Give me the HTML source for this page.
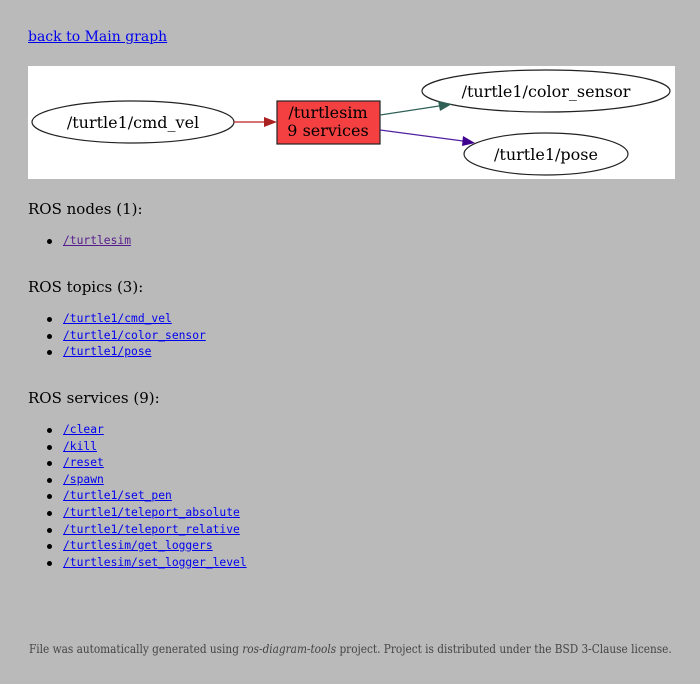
<!DOCTYPE html>
<html><head><meta charset="utf-8"><style>
html,body{margin:0;padding:0;}
body{width:700px;height:684px;background:#bababa;position:relative;overflow:hidden;font-family:"DejaVu Serif","Liberation Serif",serif;}
.a{position:absolute;white-space:nowrap;}
a{color:#0000ee;}
.h{font-size:15px;color:#000;left:28px;}
.li{left:63px;font-family:"DejaVu Sans Mono","Liberation Mono",monospace;font-size:11.3px;}
.b{left:47px;width:5px;height:5px;background:#000;border-radius:50%;}
</style></head><body>
<div class="a" style="left:28px;top:29px;font-size:14px;"><a href="#">back to Main graph</a></div>
<svg class="a" style="left:28px;top:66px" width="647" height="113" viewBox="0 0 647 113">
<rect width="647" height="113" fill="#fff"/>
<g font-family="DejaVu Serif, Liberation Serif, serif" font-size="16" text-anchor="middle">
<ellipse cx="105" cy="56" rx="101" ry="21" fill="none" stroke="#222" stroke-width="1.2"/>
<text x="105" y="62">/turtle1/cmd_vel</text>
<rect x="249" y="35" width="103" height="43" fill="#f44040" stroke="#222" stroke-width="1.2"/>
<text x="300" y="52">/turtlesim</text><text x="300" y="70">9 services</text>
<ellipse cx="518" cy="25" rx="124" ry="21" fill="none" stroke="#222" stroke-width="1.2"/>
<text x="518" y="31">/turtle1/color_sensor</text>
<ellipse cx="518" cy="88" rx="82" ry="21" fill="none" stroke="#222" stroke-width="1.2"/>
<text x="518" y="94">/turtle1/pose</text>
</g>
<line x1="206" y1="56" x2="237" y2="56" stroke="#b22" stroke-width="1.2"/>
<polygon points="249,56 236,51 236,61" fill="#a22"/>
<line x1="352" y1="49" x2="411" y2="40" stroke="#2f5f55" stroke-width="1.2"/>
<polygon points="424,38 410,35 412,45" fill="#2f5f55"/>
<line x1="352" y1="64" x2="435" y2="75" stroke="#5020a0" stroke-width="1.2"/>
<polygon points="447,77 435,70 434,80" fill="#400090"/>
</svg>
<div class="a h" style="top:200px">ROS nodes (1):</div>
<div class="a b" style="top:239px"></div><div class="a li" style="top:234px"><a href="#" style="color:#551a8b">/turtlesim</a></div>
<div class="a h" style="top:278px">ROS topics (3):</div>
<div class="a b" style="top:317px"></div><div class="a li" style="top:312px"><a href="#">/turtle1/cmd_vel</a></div>
<div class="a b" style="top:334px"></div><div class="a li" style="top:329px"><a href="#">/turtle1/color_sensor</a></div>
<div class="a b" style="top:350px"></div><div class="a li" style="top:345px"><a href="#">/turtle1/pose</a></div>
<div class="a h" style="top:389px">ROS services (9):</div>
<div class="a b" style="top:428px"></div><div class="a li" style="top:423px"><a href="#">/clear</a></div>
<div class="a b" style="top:445px"></div><div class="a li" style="top:440px"><a href="#">/kill</a></div>
<div class="a b" style="top:461px"></div><div class="a li" style="top:456px"><a href="#">/reset</a></div>
<div class="a b" style="top:478px"></div><div class="a li" style="top:473px"><a href="#">/spawn</a></div>
<div class="a b" style="top:494px"></div><div class="a li" style="top:489px"><a href="#">/turtle1/set_pen</a></div>
<div class="a b" style="top:511px"></div><div class="a li" style="top:506px"><a href="#">/turtle1/teleport_absolute</a></div>
<div class="a b" style="top:528px"></div><div class="a li" style="top:523px"><a href="#">/turtle1/teleport_relative</a></div>
<div class="a b" style="top:544px"></div><div class="a li" style="top:539px"><a href="#">/turtlesim/get_loggers</a></div>
<div class="a b" style="top:561px"></div><div class="a li" style="top:556px"><a href="#">/turtlesim/set_logger_level</a></div>
<div class="a" style="left:29px;top:642px;font-size:11.7px;color:#444;font-stretch:condensed;font-family:'DejaVu Serif Condensed','DejaVu Serif',serif;">File was automatically generated using <i>ros-diagram-tools</i> project. Project is distributed under the BSD 3-Clause license.</div>
</body></html>
